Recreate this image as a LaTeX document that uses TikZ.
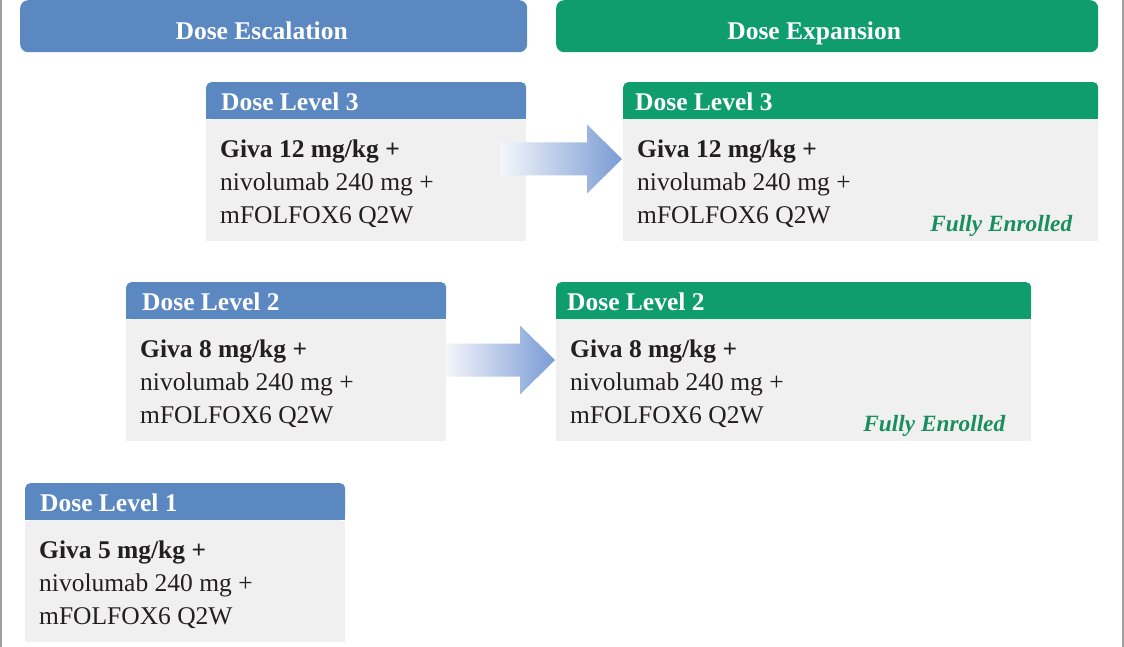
\documentclass[tikz,border=0pt]{standalone}
\usepackage{fontspec}
\setmainfont{Liberation Serif}
\usetikzlibrary{calc}
\definecolor{escblue}{RGB}{92,136,194}
\definecolor{expgreen}{RGB}{16,157,110}
\definecolor{bodygrey}{RGB}{240,240,240}
\definecolor{textdark}{RGB}{35,31,32}
\definecolor{enrollgreen}{RGB}{24,142,98}
\definecolor{framegrey}{RGB}{160,160,160}
\definecolor{arrowlight}{RGB}{244,246,251}
\definecolor{arrowblue}{RGB}{122,155,212}
\tikzset{
  banner/.style={rounded corners=8pt, minimum height=52pt, inner sep=0pt, anchor=north west},
  bannertxt/.style={anchor=base, inner sep=0pt, text=white, font=\bfseries\fontsize{25.5}{30}\selectfont},
  headbox/.style={rounded corners=5pt, minimum height=37pt, inner sep=0pt, anchor=north west},
  bodybox/.style={fill=bodygrey, minimum height=121pt, inner sep=0pt, anchor=north west},
  headtxt/.style={anchor=base west, inner sep=0pt, text=white, font=\bfseries\fontsize{25.5}{30}\selectfont},
  givatxt/.style={anchor=base west, inner sep=0pt, text=textdark, font=\bfseries\fontsize{25.5}{30}\selectfont},
  bodytxt/.style={anchor=base west, inner sep=0pt, text=textdark, font=\fontsize{25.5}{30}\selectfont},
  enroll/.style={anchor=base east, inner sep=0pt, text=enrollgreen, font=\bfseries\itshape\fontsize{23.3}{28}\selectfont},
  blockarrow/.style={left color=arrowlight, right color=arrowblue},
  frameline/.style={draw=framegrey, line width=1.2pt}
}
\newcommand\DoseBox[8]{%
  \node[headbox, fill=#5, minimum width=#4pt] (#1h) at (#2,#3) {};
  \fill[#5] (#1h.west) rectangle (#1h.south east);
  \node[bodybox, minimum width=#4pt] (#1b) at (#1h.south west) {};
  \node[headtxt] (#1t) at ($(#1h.south west)+(#8,-9)$) {Dose Level #6};
  \node[givatxt] (#1g) at ($(#1b.north west)+(14,38)$) {#7};
  \node[bodytxt] (#1n) at ($(#1b.north west)+(14,71)$) {nivolumab 240 mg +};
  \node[bodytxt] (#1m) at ($(#1b.north west)+(14,104)$) {mFOLFOX6 Q2W};
}
\newcommand\BlockArrow[2]{%
  \shade[blockarrow] ($(#1)+(0,-16.5)$) -- ($(#2)+(-35,-16.5)$) -- ($(#2)+(-35,-34.5)$) -- (#2)
    -- ($(#2)+(-35,34.5)$) -- ($(#2)+(-35,16.5)$) -- ($(#1)+(0,16.5)$) -- cycle;
}
\begin{document}
\begin{tikzpicture}[x=1pt,y=-1pt]
\useasboundingbox (0,0) rectangle (1124,647);
\fill[white] (0,0) rectangle (1124,647);
\draw[frameline] (1,0) -- (1,647);
\draw[frameline] (1123,0) -- (1123,647);
% banners
\node[banner, fill=escblue, minimum width=507pt] (escban) at (20,0) {};
\node[bannertxt] (escbantxt) at ($(escban.center)+(-12,13)$) {Dose Escalation};
\node[banner, fill=expgreen, minimum width=542pt] (expban) at (556,0) {};
\node[bannertxt] (expbantxt) at ($(expban.center)+(-13,13)$) {Dose Expansion};
% boxes
\DoseBox{eth}{206}{82}{320}{escblue}{3}{Giva 12 mg/kg +}{15}
\DoseBox{xth}{623}{82}{475}{expgreen}{3}{Giva 12 mg/kg +}{12}
\DoseBox{etw}{126}{282}{320}{escblue}{2}{Giva 8 mg/kg +}{16}
\DoseBox{xtw}{556}{282}{475}{expgreen}{2}{Giva 8 mg/kg +}{11}
\DoseBox{eon}{25}{483}{320}{escblue}{1}{Giva 5 mg/kg +}{15}
% fully enrolled
\node[enroll] (fe1) at ($(xthb.south east)+(-26,-9)$) {Fully Enrolled};
\node[enroll] (fe2) at ($(xtwb.south east)+(-26,-9)$) {Fully Enrolled};
% arrows
\coordinate (a1s) at (500,159);
\coordinate (a1t) at (622,159);
\coordinate (a2s) at (445,360);
\coordinate (a2t) at (555,360);
\BlockArrow{a1s}{a1t}
\BlockArrow{a2s}{a2t}
\end{tikzpicture}
\end{document}
